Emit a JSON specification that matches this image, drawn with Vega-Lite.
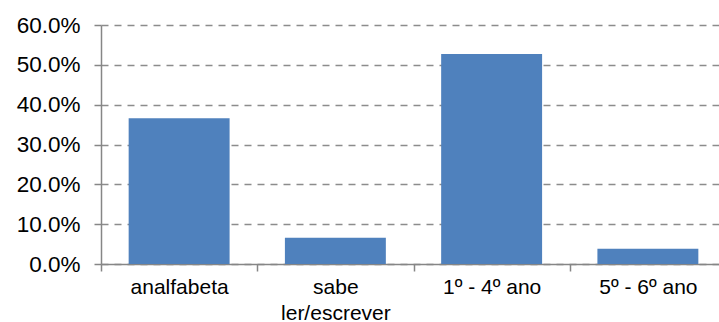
{
  "$schema": "https://vega.github.io/schema/vega-lite/v6.json",
  "width": 625,
  "height": 239,
  "autosize": {"type": "none"},
  "padding": {"left": 101, "top": 25, "right": 0, "bottom": 58},
  "background": "white",
  "config": {"view": {"stroke": null}, "font": "Liberation Sans"},
  "data": {
    "values": [
      {"categoria": "analfabeta", "valor": 0.366},
      {"categoria": "sabe ler/escrever", "valor": 0.066},
      {"categoria": "1º - 4º ano", "valor": 0.527},
      {"categoria": "5º - 6º ano", "valor": 0.038}
    ]
  },
  "mark": {"type": "bar", "color": "#4F81BD", "width": {"band": 0.646}},
  "encoding": {
    "x": {
      "field": "categoria",
      "type": "nominal",
      "sort": null,
      "scale": {"paddingInner": 0, "paddingOuter": 0},
      "axis": {
        "title": null,
        "labelAngle": 0,
        "tickBand": "extent",
        "domainColor": "#868686",
        "domainWidth": 1.5,
        "tickColor": "#868686",
        "tickWidth": 1.5,
        "tickSize": 7,
        "labelFontSize": 21,
        "labelColor": "#000000",
        "labelPadding": 5,
        "labelLineHeight": 26,
        "labelExpr": "datum.value == 'sabe ler/escrever' ? ['sabe', 'ler/escrever'] : datum.label",
        "grid": false
      }
    },
    "y": {
      "field": "valor",
      "type": "quantitative",
      "scale": {"domain": [0, 0.6]},
      "axis": {
        "title": null,
        "format": ".1%",
        "values": [0, 0.1, 0.2, 0.3, 0.4, 0.5, 0.6],
        "grid": true,
        "gridDash": [7, 6],
        "gridColor": "#8c8c8c",
        "gridWidth": 1.5,
        "domainColor": "#868686",
        "domainWidth": 1.5,
        "tickColor": "#868686",
        "tickWidth": 1.5,
        "tickSize": 7,
        "labelPadding": 14,
        "labelFontSize": 22.5,
        "labelColor": "#000000"
      }
    }
  }
}
